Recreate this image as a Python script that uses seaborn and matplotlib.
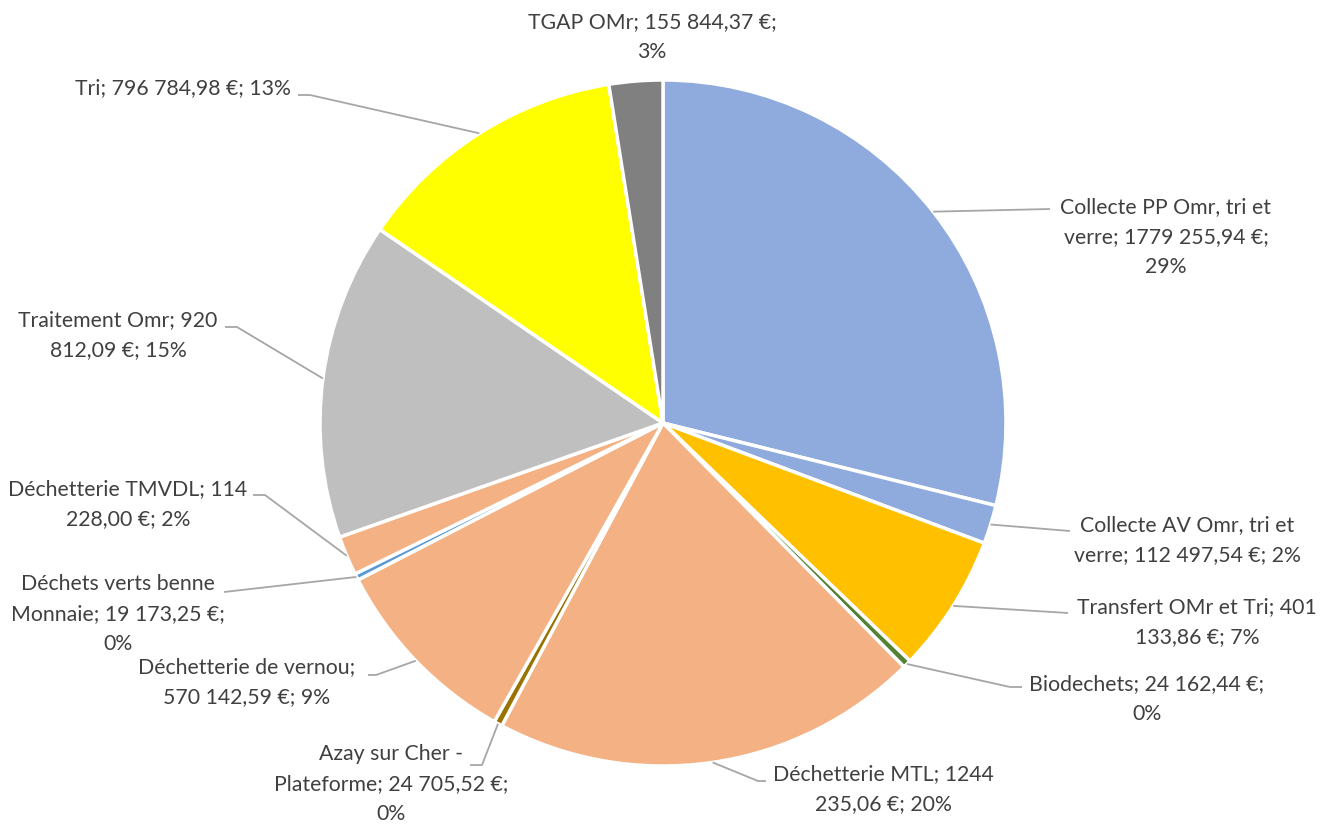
import numpy as np
import matplotlib
matplotlib.use("Agg")
import matplotlib.pyplot as plt
import seaborn as sns

# Budget breakdown (euros)
categories = [
    "Collecte PP Omr, tri et verre",
    "Collecte AV Omr, tri et verre",
    "Transfert OMr et Tri",
    "Biodechets",
    "Déchetterie MTL",
    "Azay sur Cher - Plateforme",
    "Déchetterie de vernou",
    "Déchets verts benne Monnaie",
    "Déchetterie TMVDL",
    "Traitement Omr",
    "Tri",
    "TGAP OMr",
]
values = [
    1779255.94, 112497.54, 401133.86, 24162.44, 1244235.06, 24705.52,
    570142.59, 19173.25, 114228.00, 920812.09, 796784.98, 155844.37,
]
# Label text as displayed (line breaks included)
label_texts = [
    "Collecte PP Omr, tri et\nverre; 1779 255,94 €;\n29%",
    "Collecte AV Omr, tri et\nverre; 112 497,54 €; 2%",
    "Transfert OMr et Tri; 401\n133,86 €; 7%",
    "Biodechets; 24 162,44 €;\n0%",
    "Déchetterie MTL; 1244\n235,06 €; 20%",
    "Azay sur Cher -\nPlateforme; 24 705,52 €;\n0%",
    "Déchetterie de vernou;\n570 142,59 €; 9%",
    "Déchets verts benne\nMonnaie; 19 173,25 €;\n0%",
    "Déchetterie TMVDL; 114\n228,00 €; 2%",
    "Traitement Omr; 920\n812,09 €; 15%",
    "Tri; 796 784,98 €; 13%",
    "TGAP OMr; 155 844,37 €;\n3%",
]

colors = [
    "#8FAADC", "#8FAADC", "#FFC000", "#548235", "#F4B183", "#997300",
    "#F4B183", "#5B9BD5", "#F4B183", "#BFBFBF", "#FFFF00", "#808080",
]

# Layout in pixel space (y measured from top): text centre and leader elbow
W, H = 1336, 825
CX, CY, R = 663, 423, 343
text_pos = [
    (1166, 237), (1187, 540), (1197, 622), (1147, 699), (883, 789),
    (391, 784), (247, 682), (118, 614), (128, 504), (118, 335),
    (183, 88), (652, 37),
]
elbows = [
    [(1050, 209)],
    [(1070, 531)],
    [(1068, 613)],
    [(1010, 687), (1022, 687)],
    [(758, 781), (766, 781)],
    [(482, 765), (470, 765)],
    [(376, 675), (368, 675)],
    [(224, 592)],
    [(265, 495), (253, 495)],
    [(237, 327), (225, 327)],
    [(310, 95), (298, 95)],
    None,
]

sns.set_theme(style="white")
plt.rcParams["font.family"] = ["Lato", "DejaVu Sans"]

fig = plt.figure(figsize=(W / 100, H / 100), dpi=100)
ax = fig.add_axes([0, 0, 1, 1])

wedges, _ = ax.pie(
    values, colors=colors, startangle=90, counterclock=False,
    center=(CX, H - CY), radius=R,
    wedgeprops=dict(edgecolor="white", linewidth=2.5),
)
ax.set_xlim(0, W)
ax.set_ylim(0, H)
ax.set_aspect("equal")
ax.axis("off")

line_color = "#A6A6A6"
text_color = "#404040"
for w, txt, (tx, ty), elb in zip(wedges, label_texts, text_pos, elbows):
    mid = np.deg2rad((w.theta1 + w.theta2) / 2)
    ax_x = CX + R * np.cos(mid)
    ax_y = (H - CY) + R * np.sin(mid)
    if elb is not None:
        xs = [ax_x] + [p[0] for p in elb]
        ys = [ax_y] + [H - p[1] for p in elb]
        ax.plot(xs, ys, color=line_color, lw=1.3, solid_capstyle="butt", zorder=3)
    ax.text(tx, H - ty, txt, ha="center", va="center", multialignment="center",
            fontsize=15.3, color=text_color, linespacing=1.6)

fig.savefig("out.png", dpi=100, facecolor="white")
